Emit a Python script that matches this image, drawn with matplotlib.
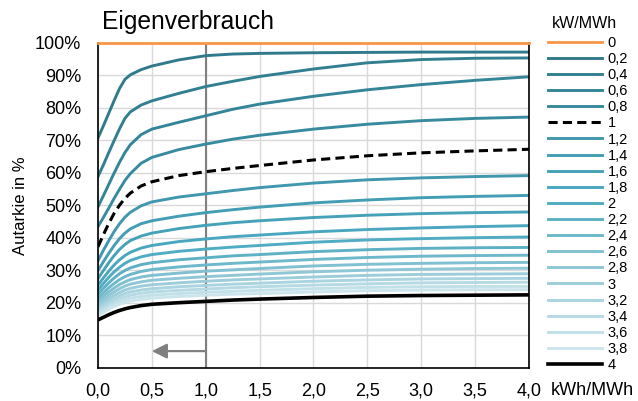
import numpy as np
import matplotlib.pyplot as plt
from matplotlib.ticker import FuncFormatter

plt.rcParams['font.family'] = ['Liberation Sans', 'DejaVu Sans']

# Speicherkapazität kWh/MWh
speicher = [0, 0.05, 0.1, 0.15, 0.2, 0.25, 0.3, 0.4, 0.5, 0.75, 1.0, 1.25, 1.5, 2.0, 2.5, 3.0, 3.5, 4.0]

pv_labels = ['0', '0,2', '0,4', '0,6', '0,8', '1', '1,2', '1,4', '1,6', '1,8', '2',
             '2,2', '2,4', '2,6', '2,8', '3', '3,2', '3,4', '3,6', '3,8', '4']

# Eigenverbrauch in % je PV-Leistung (kW/MWh)
ev_0_0 = [100] * 18
ev_0_2 = [70.8, 74.5, 78.4, 82.3, 86.0, 88.8, 90.2, 91.8, 92.9, 94.8, 96.1, 96.6, 96.8, 97.0, 97.1, 97.2, 97.2, 97.2]
ev_0_4 = [58.9, 62.5, 66.3, 70.0, 73.6, 76.8, 78.8, 80.9, 82.2, 84.5, 86.6, 88.2, 89.7, 92.0, 93.9, 94.9, 95.3, 95.4]
ev_0_6 = [49.6, 53.0, 56.5, 60.0, 63.3, 66.3, 68.7, 71.8, 73.5, 75.6, 77.6, 79.6, 81.2, 83.6, 85.6, 87.2, 88.5, 89.6]
ev_0_8 = [43.5, 46.3, 49.2, 52.2, 55.0, 57.7, 59.8, 63.0, 64.8, 67.2, 68.9, 70.4, 71.6, 73.5, 75.0, 76.1, 76.8, 77.2]
ev_1_0 = [37.3, 41.0, 44.5, 47.6, 50.1, 52.2, 53.8, 56.0, 57.3, 59.2, 60.4, 61.4, 62.3, 64.0, 65.3, 66.2, 66.8, 67.3]
ev_1_2 = [33.0, 36.2, 39.2, 42.0, 44.4, 46.4, 47.9, 49.9, 51.1, 52.6, 53.6, 54.6, 55.5, 56.9, 57.9, 58.5, 58.9, 59.2]
ev_1_4 = [30.0, 32.7, 35.3, 37.7, 39.8, 41.5, 42.8, 44.4, 45.3, 46.7, 47.8, 48.7, 49.5, 50.8, 51.7, 52.4, 52.8, 53.1]
ev_1_6 = [27.5, 30.0, 32.4, 34.6, 36.5, 38.0, 39.2, 40.6, 41.5, 42.9, 43.9, 44.7, 45.3, 46.3, 47.0, 47.5, 47.8, 48.0]
ev_1_8 = [25.5, 27.7, 29.8, 31.7, 33.3, 34.6, 35.6, 36.9, 37.7, 38.9, 39.7, 40.4, 40.9, 41.9, 42.6, 43.1, 43.5, 43.8]
ev_2_0 = [24.0, 26.0, 27.9, 29.6, 31.0, 32.2, 33.1, 34.2, 34.9, 35.9, 36.6, 37.2, 37.7, 38.7, 39.4, 39.8, 40.1, 40.3]
ev_2_2 = [22.7, 24.5, 26.2, 27.7, 29.0, 30.0, 30.8, 31.8, 32.4, 33.3, 33.9, 34.5, 34.9, 35.8, 36.4, 36.8, 37.0, 37.1]
ev_2_4 = [21.5, 23.1, 24.7, 26.0, 27.2, 28.1, 28.8, 29.7, 30.3, 31.1, 31.7, 32.2, 32.6, 33.4, 34.0, 34.4, 34.6, 34.7]
ev_2_6 = [20.5, 22.0, 23.4, 24.6, 25.7, 26.5, 27.2, 28.0, 28.5, 29.2, 29.8, 30.2, 30.6, 31.4, 31.9, 32.2, 32.4, 32.5]
ev_2_8 = [19.6, 21.0, 22.3, 23.4, 24.4, 25.2, 25.8, 26.5, 27.0, 27.6, 28.1, 28.5, 28.9, 29.6, 30.1, 30.4, 30.6, 30.7]
ev_3_0 = [18.8, 20.1, 21.3, 22.3, 23.2, 24.0, 24.5, 25.2, 25.6, 26.2, 26.7, 27.1, 27.4, 28.0, 28.5, 28.8, 28.9, 29.0]
ev_3_2 = [18.0, 19.2, 20.4, 21.3, 22.2, 22.9, 23.4, 24.0, 24.4, 25.0, 25.4, 25.8, 26.1, 26.7, 27.1, 27.4, 27.5, 27.6]
ev_3_4 = [17.3, 18.5, 19.6, 20.5, 21.3, 21.9, 22.4, 23.0, 23.4, 23.9, 24.3, 24.7, 25.0, 25.5, 25.9, 26.2, 26.3, 26.4]
ev_3_6 = [16.7, 17.8, 18.8, 19.7, 20.4, 21.0, 21.5, 22.0, 22.4, 22.9, 23.3, 23.6, 23.9, 24.4, 24.8, 25.0, 25.1, 25.1]
ev_3_8 = [16.1, 17.1, 18.1, 18.9, 19.6, 20.2, 20.6, 21.1, 21.5, 22.0, 22.4, 22.7, 22.9, 23.4, 23.8, 24.0, 24.1, 24.1]
ev_4_0 = [14.8, 15.6, 16.4, 17.1, 17.7, 18.2, 18.6, 19.2, 19.6, 20.1, 20.5, 20.9, 21.2, 21.7, 22.1, 22.3, 22.4, 22.5]

reihen = [ev_0_0, ev_0_2, ev_0_4, ev_0_6, ev_0_8, ev_1_0, ev_1_2, ev_1_4, ev_1_6, ev_1_8, ev_2_0,
          ev_2_2, ev_2_4, ev_2_6, ev_2_8, ev_3_0, ev_3_2, ev_3_4, ev_3_6, ev_3_8, ev_4_0]

farben = ['#F79646', '#317A8C', '#337F92', '#358598', '#388B9F', 'black', '#4097AE', '#439DB4',
          '#46A2B9', '#49A7BF', '#4FACC3', '#5EB1C5', '#6EB8CB', '#80C0D1', '#8FC7D6', '#9DCDDA',
          '#AAD4DF', '#B6DAE4', '#C1E0E8', '#CCE5EC', 'black']

fig = plt.figure(figsize=(6.38, 4.01), dpi=100)
ax = fig.add_axes([0.1536, 0.0823, 0.6755, 0.8105])

for i in range(len(reihen)):
    y = np.array(reihen[i]) / 100
    if i == 5:
        ax.plot(speicher, y, color='black', lw=2.2, ls=(0, (3, 1.7)), label=pv_labels[i])
    elif i == 0:
        ax.plot(speicher, y, color=farben[i], lw=2.0, label=pv_labels[i], clip_on=False, zorder=5)
    else:
        ax.plot(speicher, y, color=farben[i], lw=2.6 if i == 20 else 2.1,
                label=pv_labels[i], solid_joinstyle='round')

ax.axvline(1.0, color='#808080', lw=1.5, zorder=1)
ax.annotate('', xy=(0.5, 0.052), xytext=(1.0, 0.052),
            arrowprops=dict(arrowstyle='-|>,head_length=0.9,head_width=0.45',
                            color='#808080', lw=1.6, shrinkA=0, shrinkB=0))

ax.set_xlim(0, 4)
ax.set_ylim(0, 1)
ax.set_xticks(np.arange(0, 4.01, 0.5))
ax.set_yticks(np.arange(0, 1.01, 0.1))
ax.xaxis.set_major_formatter(FuncFormatter(lambda v, p: f'{v:.1f}'.replace('.', ',')))
ax.yaxis.set_major_formatter(FuncFormatter(lambda v, p: f'{v*100:.0f}%'))
ax.tick_params(length=0, labelsize=13)
ax.tick_params(axis='y', pad=12)
ax.tick_params(axis='x', pad=10.5)
ax.grid(True, color='#D9D9D9', lw=1.0)
ax.set_axisbelow(True)
for s in ['left', 'bottom', 'right']:
    ax.spines[s].set_color('black')
    ax.spines[s].set_linewidth(1.2)
ax.spines['top'].set_visible(False)

ax.set_ylabel('Autarkie in %', fontsize=12, labelpad=5)
fig.text(0.16, 0.945, 'Eigenverbrauch', fontsize=17.7, ha='left', va='center')
ax.text(1.051, -0.068, 'kWh/MWh', transform=ax.transAxes, fontsize=13, ha='left', va='center')
fig.text(552 / 638, 1 - 23 / 401, 'kW/MWh', fontsize=11.5, ha='left', va='center')

ax.legend(loc='upper left', bbox_to_anchor=(1.044, 1.022), frameon=False, fontsize=10.5,
          handlelength=3.7, handletextpad=0.4, labelspacing=0.145, borderaxespad=0, borderpad=0)

plt.savefig('out.png', dpi=100)
